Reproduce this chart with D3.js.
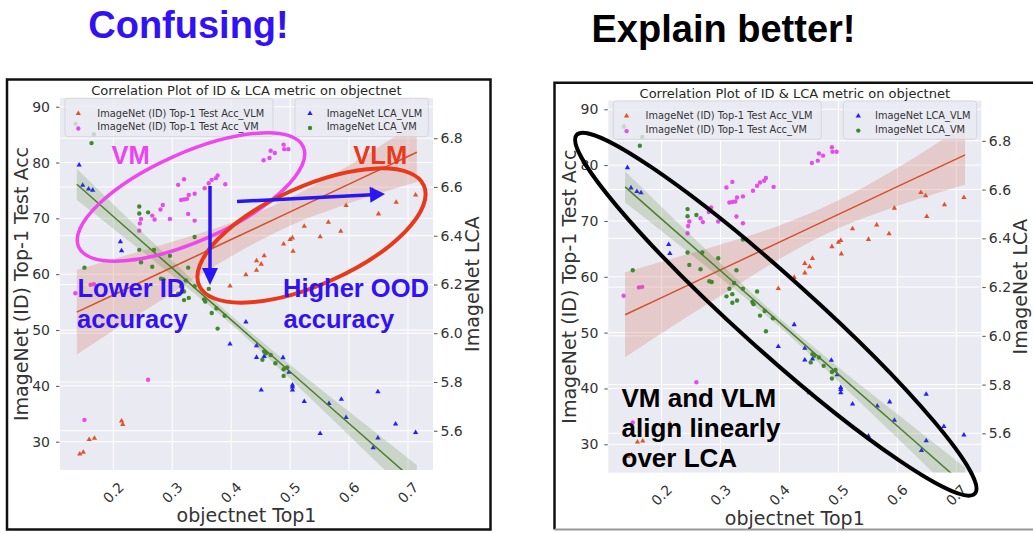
<!DOCTYPE html>
<html><head><meta charset="utf-8">
<script src="https://cdn.jsdelivr.net/npm/d3@7"></script>
<style>body{margin:0;background:#fff;} svg{display:block;font-family:"DejaVu Sans",sans-serif;}</style>
</head><body><svg id="c" width="1033" height="533"></svg>
<script>
// ---- data ----
const xTicks = [0.2, 0.3, 0.4, 0.5, 0.6, 0.7];
const accTicks = [30, 40, 50, 60, 70, 80, 90];
const lcaTicks = [5.6, 5.8, 6.0, 6.2, 6.4, 6.6, 6.8];

const vlmAccX = [0.143,0.149,0.159,0.168,0.214,0.216,0.398,0.425,0.443,0.443,0.451,0.456,0.489,0.500,0.504,0.505,0.524,0.551,0.565,0.586,0.595,0.640,0.648,0.650,0.680,0.713];
const vlmAcc  = [27.8,28.1,30.4,30.6,33.7,33.1,57.9,59.9,60.7,62.4,61.8,63.3,65.4,66.2,66.5,64.1,68.6,66.7,69.3,67.7,72.3,75.1,74.5,70.8,72.9,74.2];

const vmAccX = [0.1355,0.1615,0.167,0.151,0.259,0.244,0.245,0.247,0.266,0.270,0.280,0.284,0.296,0.310,0.320,0.315,0.320,0.325,0.328,0.338,0.327,0.338,0.355,0.362,0.367,0.374,0.377,0.390,0.455,0.465,0.467,0.474,0.489,0.490,0.497];
const vmAcc  = [56.6,58.1,58.2,33.9,41.1,67.8,69.1,69.9,70.5,69.8,71.6,72.4,69.9,76.0,77.0,73.3,73.4,73.5,74.2,74.4,70.8,69.6,75.4,76.3,76.9,77.2,77.7,76.1,80.4,80.8,82.1,81.7,83.2,82.4,82.4];

const vlmLcaX = [0.142,0.148,0.158,0.165,0.212,0.214,0.398,0.425,0.443,0.443,0.451,0.456,0.488,0.498,0.504,0.504,0.504,0.524,0.551,0.566,0.587,0.595,0.641,0.649,0.649,0.679,0.713];
const vlmLca  = [6.690,6.607,6.592,6.587,6.375,6.338,5.956,6.046,5.949,5.901,5.767,5.905,5.900,5.840,5.788,5.780,5.767,5.720,5.589,5.712,5.729,5.654,5.530,5.760,5.570,5.628,5.593];

const vmLcaX = [0.136,0.163,0.167,0.151,0.244,0.244,0.259,0.244,0.247,0.269,0.266,0.296,0.327,0.281,0.285,0.338,0.315,0.323,0.310,0.320,0.320,0.328,0.338,0.354,0.356,0.362,0.367,0.375,0.389,0.377,0.453,0.456,0.459,0.467,0.475,0.489,0.495,0.489];
const vmLca  = [6.859,6.780,6.816,6.269,6.520,6.491,6.496,6.342,6.291,6.342,6.273,6.318,6.269,6.224,6.221,6.395,6.193,6.217,6.162,6.171,6.136,6.145,6.193,6.139,6.130,6.182,6.083,6.102,6.072,6.019,5.891,5.925,5.918,5.911,5.877,5.852,5.860,5.825];

// regression fits and confidence bands
const bandX    = [0.138, 0.2, 0.3, 0.4, 0.5, 0.6, 0.715];
const accFit   = [53.2, 56.28, 61.24, 66.21, 71.17, 76.14, 81.85];
const accLo    = [45.6, 49.9, 56.6, 63.2, 68.7, 72.7, 76.5];
const accHi    = [60.8, 62.7, 65.8, 69.2, 73.7, 79.5, 87.2];
const lcaFit   = [6.611, 6.479, 6.267, 6.055, 5.842, 5.630, 5.386];
const lcaLo    = [6.547, 6.429, 6.237, 6.037, 5.813, 5.581, 5.312];
const lcaHi    = [6.675, 6.529, 6.297, 6.073, 5.871, 5.679, 5.460];

const legendLeft  = ["ImageNet (ID) Top-1 Test Acc_VLM", "ImageNet (ID) Top-1 Test Acc_VM"];
const legendRight = ["ImageNet LCA_VLM", "ImageNet LCA_VM"];

// ---- styling ----
const C = {orange:"#e0522a", orangeLine:"#d64f2a", magenta:"#e54cf0", blue:"#1f1fff", green:"#3f8a2c", greenLine:"#4b7d2b"};
const W = 373, H = 372;
const svg = d3.select("#c");

function drawChart(ox, oy, id) {
  const g = svg.append("g").attr("transform", `translate(${ox},${oy})`);
  const x  = d3.scaleLinear().domain([0.1095, 0.7425]).range([0, W]);
  const yA = d3.scaleLinear().domain([24.93, 91.56]).range([H, 0]);
  const yL = d3.scaleLinear().domain([5.439, 6.965]).range([H, 0]);

  g.append("clipPath").attr("id", "clip" + id).append("rect").attr("width", W).attr("height", H);
  g.append("rect").attr("width", W).attr("height", H).attr("fill", "#eaeaf2");

  // grids
  const grid = g.append("g").attr("stroke", "#fff").attr("stroke-width", 1);
  grid.selectAll(".gx").data(xTicks).join("line").attr("x1", d => x(d)).attr("x2", d => x(d)).attr("y1", 0).attr("y2", H);
  grid.selectAll(".ga").data(accTicks).join("line").attr("y1", d => yA(d)).attr("y2", d => yA(d)).attr("x1", 0).attr("x2", W);
  grid.selectAll(".gl").data(lcaTicks).join("line").attr("y1", d => yL(d)).attr("y2", d => yL(d)).attr("x1", 0).attr("x2", W);

  const P = g.append("g").attr("clip-path", `url(#clip${id})`);
  const tri = d3.symbol().type(d3.symbolTriangle).size(12);
  const R = 2.2;

  // ID accuracy (left axis)
  P.selectAll(".o").data(vlmAccX).join("path").attr("d", tri)
    .attr("transform", (d, i) => `translate(${x(d)},${yA(vlmAcc[i])})`).attr("fill", C.orange);
  P.selectAll(".m").data(vmAccX).join("circle").attr("r", R)
    .attr("cx", d => x(d)).attr("cy", (d, i) => yA(vmAcc[i])).attr("fill", C.magenta);

  const bandA = bandX.map((d, i) => ({x: d, lo: accLo[i], hi: accHi[i], f: accFit[i]}));
  P.append("path").datum(bandA).attr("fill", "#d0644a").attr("fill-opacity", 0.24)
    .attr("d", d3.area().curve(d3.curveMonotoneX).x(d => x(d.x)).y0(d => yA(d.lo)).y1(d => yA(d.hi)));
  P.append("path").datum(bandA).attr("fill", "none").attr("stroke", C.orangeLine).attr("stroke-width", 1.5)
    .attr("d", d3.line().x(d => x(d.x)).y(d => yA(d.f)));

  // left legend
  const L1 = g.append("g");
  L1.append("rect").attr("x", 5).attr("y", 0.3).attr("width", 208).attr("height", 38.4).attr("rx", 3)
    .attr("fill", "#eaeaf2").attr("fill-opacity", 0.8).attr("stroke", "#d2d2da").attr("stroke-width", 0.8);
  L1.append("path").attr("d", tri).attr("transform", "translate(18.3,15.5)").attr("fill", C.orange);
  L1.append("circle").attr("cx", 18.3).attr("cy", 30.5).attr("r", R).attr("fill", C.magenta);
  L1.selectAll("text").data(legendLeft).join("text").attr("x", 37.3).attr("y", (d, i) => 18.8 + i * 13.4)
    .attr("font-size", 9.8).attr("fill", "#333").text(d => d);

  // LCA (right axis)
  P.selectAll(".b").data(vlmLcaX).join("path").attr("d", tri)
    .attr("transform", (d, i) => `translate(${x(d)},${yL(vlmLca[i])})`).attr("fill", C.blue);
  P.selectAll(".gr").data(vmLcaX).join("circle").attr("r", R)
    .attr("cx", d => x(d)).attr("cy", (d, i) => yL(vmLca[i])).attr("fill", C.green);

  const bandL = bandX.map((d, i) => ({x: d, lo: lcaLo[i], hi: lcaHi[i], f: lcaFit[i]}));
  P.append("path").datum(bandL).attr("fill", "#4a7f2a").attr("fill-opacity", 0.2)
    .attr("d", d3.area().curve(d3.curveMonotoneX).x(d => x(d.x)).y0(d => yL(d.lo)).y1(d => yL(d.hi)));
  P.append("path").datum(bandL).attr("fill", "none").attr("stroke", C.greenLine).attr("stroke-width", 1.5)
    .attr("d", d3.line().x(d => x(d.x)).y(d => yL(d.f)));

  // right legend
  const L2 = g.append("g");
  L2.append("rect").attr("x", 235).attr("y", 0.3).attr("width", 133.3).attr("height", 38.4).attr("rx", 3)
    .attr("fill", "#eaeaf2").attr("fill-opacity", 0.8).attr("stroke", "#d2d2da").attr("stroke-width", 0.8);
  L2.append("path").attr("d", tri).attr("transform", "translate(250,15.5)").attr("fill", C.blue);
  L2.append("circle").attr("cx", 250).attr("cy", 30).attr("r", R).attr("fill", C.green);
  L2.selectAll("text").data(legendRight).join("text").attr("x", 266.7).attr("y", (d, i) => 18.8 + i * 13.4)
    .attr("font-size", 9.8).attr("fill", "#333").text(d => d);

  // axes
  const axL = g.append("g").attr("transform", "translate(-0.5,0)")
    .call(d3.axisLeft(yA).tickValues(accTicks).tickSize(3.5).tickPadding(6).tickFormat(d3.format("d")));
  const axR = g.append("g").attr("transform", `translate(${W + 1},0)`)
    .call(d3.axisRight(yL).tickValues(lcaTicks).tickSize(3.5).tickPadding(3).tickFormat(d3.format(".1f")));
  [axL, axR].forEach(a => {
    a.select(".domain").remove();
    a.selectAll("line").attr("stroke", "#555");
    a.selectAll("text").attr("font-size", 14).attr("fill", "#333").attr("font-family", "DejaVu Sans");
  });
  g.selectAll(".xt").data(xTicks).join("text")
    .attr("transform", d => `translate(${x(d)},${H + 22.5}) rotate(-45)`)
    .attr("text-anchor", "middle").attr("dominant-baseline", "central")
    .attr("font-size", 14).attr("fill", "#333").text(d => d3.format(".1f")(d));

  // titles / labels
  g.append("text").attr("x", W / 2).attr("y", -3).attr("text-anchor", "middle").attr("font-size", 13).attr("fill", "#262626")
    .text("Correlation Plot of ID & LCA metric on objectnet");
  g.append("text").attr("x", W / 2).attr("y", H + 52).attr("text-anchor", "middle").attr("font-size", 19).attr("fill", "#333")
    .text("objectnet Top1");
  g.append("text").attr("transform", `translate(-32,${H / 2}) rotate(-90)`).attr("text-anchor", "middle")
    .attr("font-size", 19).attr("fill", "#333").text("ImageNet (ID) Top-1 Test Acc");
  g.append("text").attr("transform", `translate(${W + 46},${H / 2}) rotate(-90)`).attr("text-anchor", "middle")
    .attr("font-size", 19).attr("fill", "#333").text("ImageNet LCA");
}

// frames
svg.append("rect").attr("x", 7).attr("y", 79.5).attr("width", 483.5).attr("height", 450)
  .attr("fill", "none").attr("stroke", "#111").attr("stroke-width", 2.5);
svg.append("path").attr("d", "M1040,82.8 H554.5 V529.5").attr("fill", "none").attr("stroke", "#111").attr("stroke-width", 2.5);
svg.append("path").attr("d", "M554.5,529.5 H1040").attr("fill", "none").attr("stroke", "#999").attr("stroke-width", 2);

drawChart(60, 98, "a");
drawChart(608.3, 100.6, "b");

// headline texts
const bold = "Liberation Sans, Arial, sans-serif";
svg.append("text").attr("x", 188.5).attr("y", 38).attr("text-anchor", "middle").attr("font-family", bold)
  .attr("font-weight", "bold").attr("font-size", 38).attr("fill", "#3311f5").text("Confusing!");
svg.append("text").attr("x", 723.5).attr("y", 41.5).attr("text-anchor", "middle").attr("font-family", bold)
  .attr("font-weight", "bold").attr("font-size", 38).attr("fill", "#000").text("Explain better!");

// left annotations
const A = svg.append("g").attr("font-family", bold).attr("font-weight", "bold");
A.append("ellipse").attr("transform", "translate(191,197) rotate(-24)").attr("rx", 123).attr("ry", 44)
  .attr("fill", "none").attr("stroke", "#ee47f0").attr("stroke-width", 3.5);
A.append("ellipse").attr("transform", "translate(311.5,235.5) rotate(-24)").attr("rx", 123).attr("ry", 49)
  .attr("fill", "none").attr("stroke", "#e8391a").attr("stroke-width", 4);
A.append("line").attr("x1", 210).attr("y1", 186).attr("x2", 210).attr("y2", 270).attr("stroke", "#2a16f0").attr("stroke-width", 3.5);
A.append("path").attr("d", "M202,268 L218,268 L210,285 Z").attr("fill", "#2a16f0");
A.append("line").attr("x1", 237).attr("y1", 201.5).attr("x2", 372).attr("y2", 194.7).attr("stroke", "#2a16f0").attr("stroke-width", 3.5);
A.append("path").attr("d", "M369.6,186.8 L370.4,202.8 L385,194 Z").attr("fill", "#2a16f0");
A.append("text").attr("x", 111.5).attr("y", 163.5).attr("font-size", 25.5).attr("fill", "#ea45f2").text("VM");
A.append("text").attr("x", 353.3).attr("y", 163.5).attr("font-size", 25.5).attr("fill", "#e8391a").text("VLM");
const blueTxt = "#3311f5";
[["Lower ID", 77.5, 297], ["accuracy", 77, 328], ["Higher OOD", 283, 297], ["accuracy", 283.5, 328]].forEach(t =>
  A.append("text").attr("x", t[1]).attr("y", t[2]).attr("font-size", 25.5).attr("fill", blueTxt).text(t[0]));

// right annotations
A.append("ellipse").attr("transform", "translate(775.8,314.2) rotate(42)").attr("rx", 268).attr("ry", 37)
  .attr("fill", "none").attr("stroke", "#000").attr("stroke-width", 4);
[["VM and VLM", 406.7], ["align linearly", 436.7], ["over LCA", 466.7]].forEach(t =>
  A.append("text").attr("x", 621.5).attr("y", t[1]).attr("font-size", 26).attr("fill", "#000").text(t[0]));
</script></body></html>
